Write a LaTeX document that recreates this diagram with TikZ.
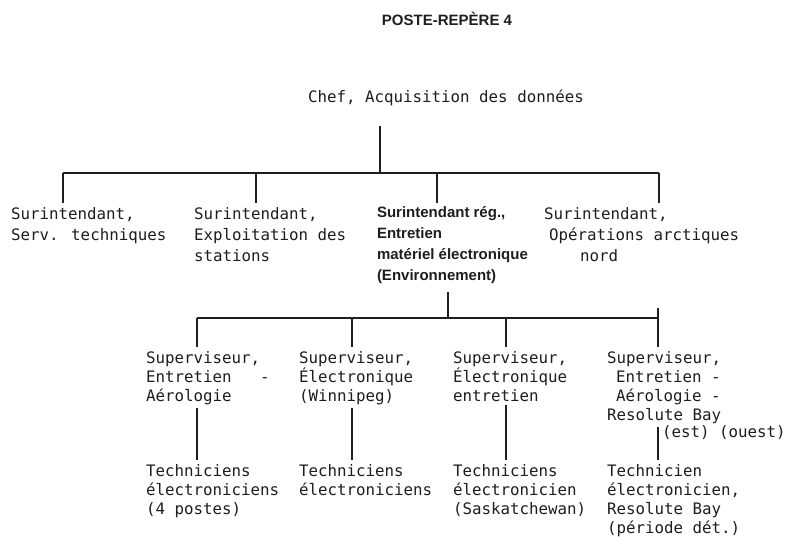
\documentclass[tikz,border=0pt]{standalone}
\usepackage{fontspec}
\newfontfamily\monofam{DejaVu Sans Mono}
\newfontfamily\sansfam{Liberation Sans}
\definecolor{ink}{RGB}{30,30,30}
\tikzset {
  headline/.style = {font=\sansfam\bfseries\fontsize{15}{18}\selectfont, inner sep=0, text=ink},
  post/.style = {anchor=north west, inner sep=0, outer xsep=0, outer ysep=4pt, align=left, text=ink, font=\monofam\fontsize{15.8}{21}\selectfont},
  subpost/.style = {post, font=\monofam\fontsize{15.8}{19}\selectfont},
  boldpost/.style = {post, font=\sansfam\bfseries\fontsize{15}{21}\selectfont},
  line/.style = {line width=1.1pt, color=ink},
}

\begin{document}
\begin{tikzpicture}[x=1pt, y=-1pt]
    \useasboundingbox[fill=white] (0,0) rectangle (788,537);

    \node[headline, anchor=base] (title) at (447,25.5) {POSTE-REPÈRE 4};
    \node[post, anchor=base west] (chef) at (308,103) {Chef, Acquisition des données};

    % surintendants
    \node[post] (s1) at (11,203) {Surintendant,\\Serv. techniques};
    \node[post] (s2) at (194,203) {Surintendant,\\Exploitation des\\stations};
    \node[boldpost] (s3) at (377,203) {Surintendant rég.,\\Entretien\\matériel électronique\\(Environnement)};
    \node[post] (s4) at (544,203) {Surintendant,\\\hspace*{5pt}Opérations arctiques\\\hspace*{36pt}nord};

    % superviseurs
    \node[subpost] (v1) at (146,347) {Superviseur,\\Entretien\ \ \ -\\Aérologie};
    \node[subpost] (v2) at (299,347) {Superviseur,\\Électronique\\(Winnipeg)};
    \node[subpost] (v3) at (453,347) {Superviseur,\\Électronique\\entretien};
    \node[subpost] (v4) at (607,347) {Superviseur,\\\hspace*{9pt}Entretien -\\\hspace*{9pt}Aérologie -\\Resolute Bay};
    \node[subpost] (est) at (662,422) {(est) (ouest)};

    % techniciens
    \node[subpost] (w1) at (146,460) {Techniciens\\électroniciens\\(4 postes)};
    \node[subpost] (w2) at (299,460) {Techniciens\\électroniciens};
    \node[subpost] (w3) at (453,460) {Techniciens\\électronicien\\(Saskatchewan)};
    \node[subpost] (w4) at (607,460) {Technicien\\électronicien,\\Resolute Bay\\(période dét.)};

    \coordinate (j0) at (380,173);
    \coordinate (j1) at (63,173);
    \coordinate (j2) at (256,173);
    \coordinate (j3) at (437,173);
    \coordinate (j4) at (659,173);
    \draw[line, shorten <=16pt] (chef.south -| j0) -- (j0);
    \draw[line] (j1) -- (j4);
    \foreach \i in {1,...,4}
        \draw[line] (j\i) -- (j\i |- s\i.north);

    \coordinate (e0) at (448,318);
    \coordinate (k1) at (197,318);
    \coordinate (k2) at (352,318);
    \coordinate (k3) at (506,318);
    \coordinate (k4) at (658,318);
    \coordinate (k4top) at (658,308);
    \draw[line, shorten <=4pt] (e0 |- s3.south) -- (e0);
    \draw[line] (k1) -- (k4);
    \foreach \i in {1,2,3}
        \draw[line] (k\i) -- (k\i |- v\i.north);
    \draw[line] (k4top) -- (k4 |- v4.north);
    \foreach \i in {1,...,4}
        \draw[line] (k\i |- v\i.south) -- (k\i |- w\i.north);
\end{tikzpicture}
\end{document}
